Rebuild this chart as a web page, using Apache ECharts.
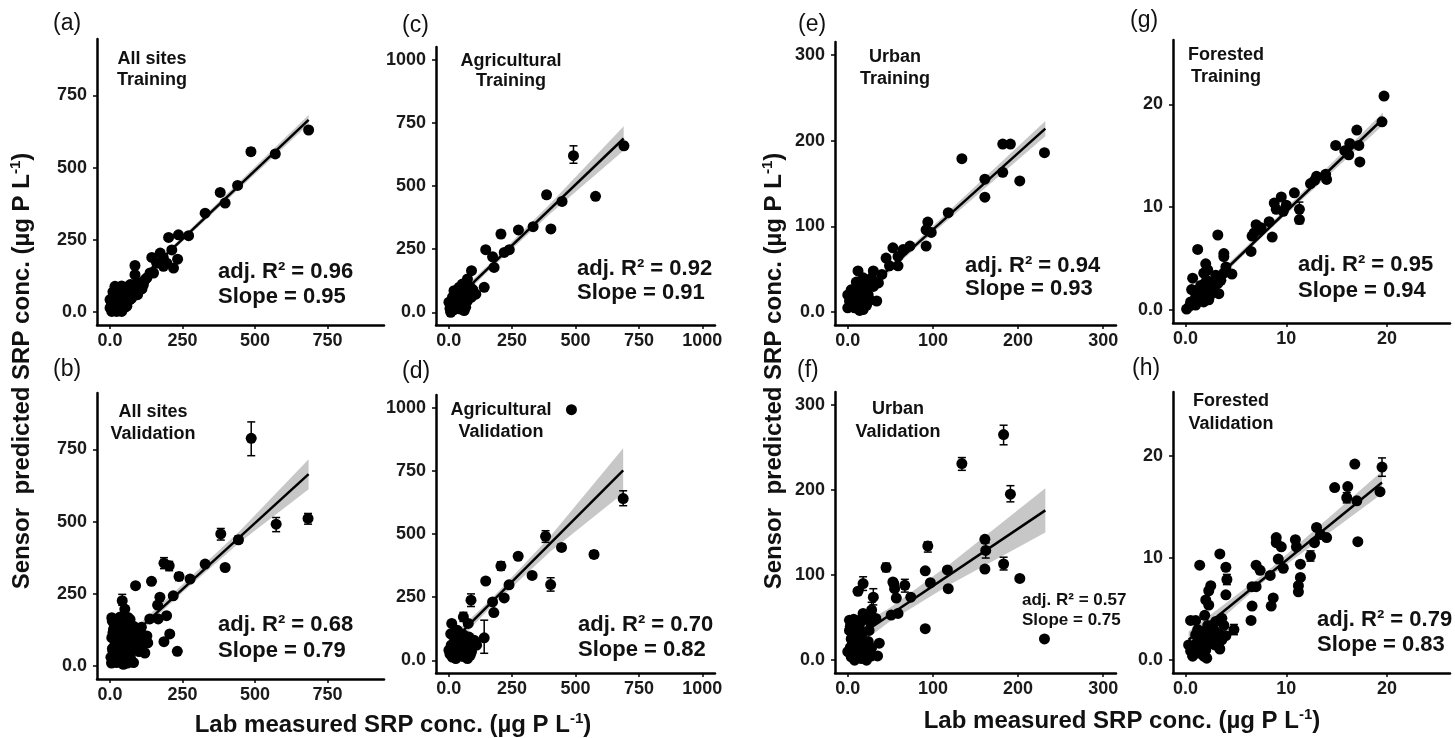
<!DOCTYPE html>
<html>
<head>
<meta charset="utf-8">
<script src="https://cdn.jsdelivr.net/npm/echarts@6/dist/echarts.min.js"></script>
<style>
  html, body { margin: 0; padding: 0; background: #fff; }
  #chart { width: 1455px; height: 738px; }
</style>
</head>
<body>
<div id="chart"></div>
<script>
// ---- data: [lab measured, sensor predicted] ----
var ptsA = [[685,630],[486,555],[570,547],[440,438],[380,414],[397,377],[328,342],[271,264],[236,267],[202,258],[233,183],[213,215],[173,204],[184,187],[161,169],[144,189],[138,135],[86,129],[121,112],[81,94],[86,161],[58,83],[35,60],[6,2],[17,20],[23,37],[35,43],[46,54],[12,54],[29,66],[52,77],[63,89],[75,71],[92,77],[104,89],[115,94],[17,89],[40,25],[58,20],[69,43],[81,66],[23,2],[40,2],[9,31],[0,43],[0,14],[46,31],[75,48],[127,118],[150,135],[184,158],[196,169],[219,152],[30,10],[50,15],[10,70],[25,80],[60,60],[100,100],[40,90],[5,25],[15,10],[20,50],[30,35],[45,70],[55,35],[65,75],[85,85],[95,60],[110,80],[70,95],[35,75],[12,40]]
var errA = [[486,543,567],[570,537,557]]
var fitA = [[0,15],[685,665]]
var bandA = [[0,3,27],[200,197,213],[685,650,682]]

var ptsB = [[487,788],[683,511],[573,491],[382,457],[443,437],[397,341],[328,353],[276,301],[238,310],[186,356],[204,347],[143,293],[88,278],[42,226],[51,197],[172,238],[218,243],[164,211],[195,174],[206,111],[186,84],[232,51],[166,163],[137,163],[108,134],[85,128],[62,168],[6,167],[12,127],[6,98],[17,75],[29,46],[12,29],[23,12],[40,23],[58,40],[75,58],[92,69],[104,86],[86,104],[63,121],[52,150],[69,161],[35,150],[81,138],[104,121],[127,104],[58,75],[40,63],[17,109],[29,138],[81,12],[46,6],[10,50],[20,90],[30,110],[5,10],[15,140],[45,95],[70,30],[100,50],[120,45],[60,10],[30,80],[8,155],[3,30],[8,60],[14,20],[20,45],[25,65],[33,30],[38,50],[45,40],[50,25],[55,90],[65,55],[72,80],[78,100],[88,85],[95,110],[110,70],[115,95],[130,80],[25,120],[10,115],[35,170],[48,130]]
var errB = [[487,728,845],[683,491,528],[573,465,514],[382,436,476],[443,425,450],[276,290,312],[238,296,323],[186,337,375],[204,330,362],[42,210,248],[397,332,350]]
var fitB = [[0,37],[685,664]]
var bandB = [[0,20,54],[250,255,282],[450,430,470],[685,612,716]]

var ptsC = [[691,659],[492,620],[579,459],[386,465],[447,439],[403,330],[333,339],[275,326],[239,248],[219,237],[206,310],[146,248],[173,220],[179,178],[90,165],[74,132],[140,99],[107,72],[54,112],[61,79],[34,79],[8,0],[14,26],[1,40],[28,53],[47,46],[28,20],[47,13],[67,20],[74,46],[47,66],[21,86],[61,7],[34,40],[80,79],[74,105],[41,99],[15,60],[55,30],[90,60],[20,10],[65,90],[5,15],[18,45],[30,30],[40,60],[55,50],[65,35],[70,70],[38,15],[50,85],[85,100],[95,90]]
var errC = [[691,646,672],[492,590,659],[386,452,478],[403,318,343],[206,296,324]]
var fitC = [[0,25],[690,688]]
var bandC = [[0,8,42],[170,177,200],[400,390,430],[690,640,736]]

var ptsD = [[484,992],[688,640],[382,491],[445,447],[573,419],[402,300],[329,336],[274,412],[206,373],[146,314],[238,299],[219,247],[173,231],[178,189],[88,238],[58,172],[77,146],[140,89],[104,70],[12,146],[8,105],[21,72],[1,40],[14,13],[34,46],[47,20],[61,66],[74,7],[41,79],[67,40],[28,7],[47,105],[80,92],[87,46],[61,99],[34,119],[20,30],[55,55],[10,60],[30,90],[70,25],[95,60],[5,25],[15,50],[25,35],[38,60],[50,40],[58,15],[65,80],[85,20],[90,35],[45,90],[25,110],[100,80],[110,60]]
var errD = [[688,612,671],[382,467,513],[445,435,460],[573,405,433],[402,274,327],[206,357,390],[88,213,263],[58,154,190],[140,28,159]]
var fitD = [[0,60],[688,752]]
var bandD = [[0,35,85],[170,215,245],[400,430,490],[688,661,839]]

var ptsE = [[231,186],[202,153],[182,196],[191,196],[182,163],[161,155],[161,134],[134,179],[118,116],[92,77],[94,105],[98,93],[92,96],[73,77],[65,73],[59,65],[53,75],[59,54],[45,63],[49,54],[30,48],[34,13],[36,34],[12,48],[26,34],[18,40],[0,20],[2,13],[6,22],[10,14],[16,24],[18,3],[8,5],[4,9],[14,30],[22,26],[12,9],[0,5],[20,16],[26,14],[16,13],[8,18],[4,26],[14,2],[22,8],[30,30],[10,35],[6,12],[10,24],[14,18],[20,30],[24,20],[28,40],[3,17],[40,44]]
var errE = []
var fitE = [[0,7],[232,214]]
var bandE = [[0,2,12],[80,75,82],[232,205,223]]

var ptsF = [[183,265],[134,231],[191,195],[161,142],[162,129],[161,107],[183,113],[202,96],[231,25],[117,106],[118,84],[94,134],[91,105],[97,91],[91,37],[74,74],[67,88],[54,90],[53,92],[55,84],[57,73],[51,53],[59,55],[45,109],[30,74],[28,59],[18,90],[12,81],[22,51],[33,49],[37,20],[35,5],[2,47],[14,47],[0,10],[4,4],[8,12],[12,16],[16,2],[6,20],[10,27],[18,33],[14,43],[18,20],[22,0],[8,0],[14,10],[4,25],[16,27],[2,35],[10,40],[20,8],[6,30],[24,22],[28,15],[3,15],[6,8],[9,22],[12,5],[15,35],[20,15],[25,35],[28,5],[3,40],[7,48],[11,30],[18,55],[26,45]]
var errF = [[183,253,276],[134,223,238],[191,186,205],[162,120,138],[183,106,121],[94,127,139],[67,80,95],[45,104,114],[30,65,84],[28,50,68],[18,82,98]]
var fitF = [[0,20],[232,176]]
var bandF = [[0,8,32],[50,46,62],[120,89,113],[232,150,202]]

var ptsG = [[19.7,20.8],[19.5,18.3],[17.0,17.5],[17.3,14.4],[17.2,16.0],[16.3,16.2],[16.2,15.1],[14.9,16.0],[13.9,13.2],[13.0,13.0],[12.4,12.3],[11.3,9.8],[11.3,8.8],[10.8,11.4],[9.5,11.0],[9.7,9.6],[8.8,10.4],[9.0,9.8],[8.6,7.1],[8.3,8.6],[7.0,8.3],[6.6,7.2],[6.5,5.7],[7.3,7.8],[3.8,5.2],[3.8,5.5],[3.2,7.3],[1.2,5.9],[4.6,3.5],[2.0,4.5],[0.7,3.1],[0.1,0.1],[0.5,0.8],[1.0,1.3],[1.3,2.0],[1.6,1.1],[2.0,1.6],[2.5,2.3],[2.8,2.8],[1.8,0.8],[2.3,1.0],[2.1,2.9],[3.0,3.4],[3.5,2.9],[2.6,2.0],[1.5,2.4],[0.6,2.0],[1.0,0.5],[1.8,3.6],[3.3,1.6],[2.2,3.9],[1.4,1.6],[3.8,3.6],[4.0,4.2],[12.8,12.6],[14.0,12.7],[10.0,10.2],[7.5,8.0],[6.8,7.5],[15.8,15.5],[0.4,0.4],[1.2,0.9],[1.7,1.8],[2.4,1.4],[2.9,2.4],[1.9,2.6],[1.1,1.9],[3.2,2.6]]
var errG = [[11.3,8.4,10.5]]
var fitG = [[0.3,0.5],[19.6,18.6]]
var bandG = [[0.3,0.1,0.9],[8,7.5,8.0],[19.6,18.0,19.2]]

var ptsH = [[19.5,18.9],[19.3,16.5],[16.8,19.2],[16.1,17.0],[16.0,15.9],[17.0,15.6],[17.1,11.6],[14.8,16.9],[14.0,12.0],[13.0,13.0],[12.8,11.5],[12.4,10.2],[13.4,12.3],[10.9,11.8],[11.0,11.1],[11.4,9.4],[11.4,8.1],[11.2,7.3],[11.2,6.7],[9.0,12.0],[9.0,11.5],[9.5,11.1],[9.2,9.9],[9.7,9.0],[8.4,8.3],[8.7,6.1],[8.5,5.3],[7.0,9.3],[7.4,8.8],[7.0,7.2],[6.6,7.2],[6.6,5.3],[6.5,3.9],[4.8,3.0],[4.0,9.1],[4.1,7.9],[4.0,6.4],[3.4,10.4],[2.5,7.3],[2.3,6.8],[2.0,5.9],[2.3,5.4],[1.4,9.3],[1.9,4.4],[0.5,3.9],[1.0,3.9],[3.6,4.1],[3.0,3.8],[0.3,1.5],[0.8,1.0],[1.3,0.7],[1.8,0.4],[2.1,0.2],[0.7,0.4],[1.5,2.2],[2.1,2.0],[2.6,2.3],[3.1,2.0],[3.6,2.0],[2.5,1.7],[1.8,2.8],[2.8,3.0],[1.1,1.7],[3.3,2.6],[1.0,2.5],[1.5,1.2],[2.0,1.0],[2.4,2.7],[2.9,1.5],[3.4,1.1],[0.5,0.9],[1.2,3.0],[2.2,3.4],[4.0,2.4],[3.8,3.4]]
var errH = [[19.5,18.0,19.8],[16.0,15.4,16.4],[12.4,9.7,10.7],[4.8,2.5,3.5],[4.1,7.4,8.4]]
var fitH = [[0.3,2.0],[19.5,17.4]]
var bandH = [[0.3,1.2,2.8],[8,7.9,8.6],[19.5,16.3,18.5]]

// tick values per axis family
var ticksAll = [0, 250, 500, 750]
var ticksAgr = [0, 250, 500, 750, 1000]
var ticksUrb = [0, 100, 200, 300]
var ticksFor = [0, 10, 20]

var statsA = ['0.96', '0.95']
var statsB = ['0.68', '0.79']
var statsC = ['0.92', '0.91']
var statsD = ['0.70', '0.82']
var statsE = ['0.94', '0.93']
var statsF = ['0.57', '0.75']
var statsG = ['0.95', '0.94']
var statsH = ['0.79', '0.83']

var FONT = '"Liberation Sans", Arial, Helvetica, sans-serif'

// panel layout: grid box, axis range, ticks, data
var panels = [
  { box: [97, 39, 287, 286], range: [-45, 945], ticks: ticksAll, pts: ptsA, err: errA, fit: fitA, band: bandA },
  { box: [97, 393, 287, 286], range: [-45, 945], ticks: ticksAll, pts: ptsB, err: errB, fit: fitB, band: bandB },
  { box: [436, 47, 279, 278], range: [-50, 1050], ticks: ticksAgr, pts: ptsC, err: errC, fit: fitC, band: bandC },
  { box: [436, 395, 279, 278], range: [-50, 1050], ticks: ticksAgr, pts: ptsD, err: errD, fit: fitD, band: bandD },
  { box: [835, 42, 281, 283], range: [-15, 315], ticks: ticksUrb, pts: ptsE, err: errE, fit: fitE, band: bandE },
  { box: [835, 392, 281, 281], range: [-15, 315], ticks: ticksUrb, pts: ptsF, err: errF, fit: fitF, band: bandF },
  { box: [1173, 40, 277, 283], range: [-1.25, 26.25], ticks: ticksFor, pts: ptsG, err: errG, fit: fitG, band: bandG },
  { box: [1173, 392, 277, 281], range: [-1.25, 26.25], ticks: ticksFor, pts: ptsH, err: errH, fit: fitH, band: bandH }
]

function fmtTick(v) {
  return v === 0 ? '0.0' : String(v)
}

function makeAxis(p, i, isX) {
  return {
    type: 'value',
    gridIndex: i,
    min: p.range[0],
    max: p.range[1],
    axisLine: { show: true, onZero: false, lineStyle: { color: '#000', width: 2.5 } },
    axisTick: { show: true, length: 4, customValues: p.ticks, lineStyle: { color: '#000', width: 1.5 } },
    axisLabel: {
      customValues: p.ticks,
      formatter: fmtTick,
      margin: isX ? 7 : 10,
      color: '#1a1a1a',
      fontSize: 18,
      fontWeight: 'bold',
      fontFamily: FONT
    },
    splitLine: { show: false }
  }
}

function bandRender(band) {
  return function (params, api) {
    if (params.dataIndex !== 0) return
    var upper = band.map(function (b) { return api.coord([b[0], b[2]]) })
    var lower = band.slice().reverse().map(function (b) { return api.coord([b[0], b[1]]) })
    return {
      type: 'polygon',
      shape: { points: upper.concat(lower) },
      style: { fill: '#bdbdbd', opacity: 0.85 }
    }
  }
}

function errRender(params, api) {
  var x = api.value(0)
  var top = api.coord([x, api.value(2)])
  var bot = api.coord([x, api.value(1)])
  var w = 4
  var st = { stroke: '#000', lineWidth: 1.5 }
  return {
    type: 'group',
    children: [
      { type: 'line', shape: { x1: top[0], y1: top[1], x2: bot[0], y2: bot[1] }, style: st },
      { type: 'line', shape: { x1: top[0] - w, y1: top[1], x2: top[0] + w, y2: top[1] }, style: st },
      { type: 'line', shape: { x1: bot[0] - w, y1: bot[1], x2: bot[0] + w, y2: bot[1] }, style: st }
    ]
  }
}

var grids = [], xAxes = [], yAxes = [], series = []
panels.forEach(function (p, i) {
  grids.push({ left: p.box[0], top: p.box[1], width: p.box[2], height: p.box[3], outerBoundsMode: 'none', containLabel: false })
  xAxes.push(makeAxis(p, i, true))
  yAxes.push(makeAxis(p, i, false))
  series.push({
    type: 'custom', xAxisIndex: i, yAxisIndex: i, silent: true, z: 1,
    renderItem: bandRender(p.band), data: p.band.map(function (b) { return [b[0], b[1]] })
  })
  series.push({
    type: 'scatter', xAxisIndex: i, yAxisIndex: i, z: 2,
    symbolSize: 11, itemStyle: { color: '#000', opacity: 1 }, data: p.pts
  })
  if (p.err.length) {
    series.push({
      type: 'custom', xAxisIndex: i, yAxisIndex: i, z: 3,
      renderItem: errRender, data: p.err
    })
  }
  series.push({
    type: 'line', xAxisIndex: i, yAxisIndex: i, z: 4,
    symbol: 'none', lineStyle: { color: '#000', width: 2.5 }, data: p.fit
  })
})

// ---- text ----
function txt(x, y, text, size, bold, align, lineHeight) {
  return {
    type: 'text', x: x, y: y, z: 10,
    style: {
      text: text, fill: '#111', fontSize: size, fontWeight: bold ? 'bold' : 'normal',
      fontFamily: FONT, align: align || 'left', textAlign: align || 'left',
      verticalAlign: 'middle', textVerticalAlign: 'middle', lineHeight: lineHeight || size
    }
  }
}

function axisTitle(x, y, rot) {
  return {
    type: 'text', x: x, y: y, rotation: rot, z: 10,
    style: {
      text: '{m|Lab measured SRP conc. (µg P L}{s|-1}{m|)}',
      align: 'center', verticalAlign: 'middle', textAlign: 'center', textVerticalAlign: 'middle',
      rich: {
        m: { fontSize: 24, fontWeight: 'bold', fontFamily: FONT, fill: '#111', color: '#111', lineHeight: 28 },
        s: { fontSize: 15, fontWeight: 'bold', fontFamily: FONT, fill: '#111', color: '#111', lineHeight: 14, verticalAlign: 'top' }
      }
    }
  }
}

function yTitle(x, y) {
  var t = axisTitle(x, y, Math.PI / 2)
  t.style.text = '{m|Sensor  predicted SRP conc. (µg P L}{s|-1}{m|)}'
  return t
}

function stats(x, y, s, size, gap) {
  return txt(x, y, 'adj. R² = ' + s[0] + '\nSlope = ' + s[1], size, true, 'left', gap)
}

var graphics = [
  txt(53, 24, '(a)', 23, false), txt(53, 370, '(b)', 23, false),
  txt(402, 26, '(c)', 23, false), txt(402, 372, '(d)', 23, false),
  txt(798, 25, '(e)', 23, false), txt(797, 371, '(f)', 23, false),
  txt(1130, 21, '(g)', 23, false), txt(1132, 369, '(h)', 23, false),

  txt(152, 70, 'All sites\nTraining', 18, true, 'center', 21),
  txt(153, 423, 'All sites\nValidation', 18, true, 'center', 22),
  txt(511, 71, 'Agricultural\nTraining', 18, true, 'center', 20),
  txt(501, 421, 'Agricultural\nValidation', 18, true, 'center', 22),
  txt(895, 68, 'Urban\nTraining', 18, true, 'center', 22),
  txt(898, 421, 'Urban\nValidation', 18, true, 'center', 23),
  txt(1226, 66, 'Forested\nTraining', 18, true, 'center', 22),
  txt(1231, 413, 'Forested\nValidation', 18, true, 'center', 23),

  stats(218, 284, statsA, 22, 25),
  stats(218, 638, statsB, 22, 26),
  stats(577, 281, statsC, 22, 24),
  stats(578, 637, statsD, 22, 25),
  stats(965, 277, statsE, 22, 23),
  stats(1022, 610, statsF, 17, 20),
  stats(1298, 278, statsG, 22, 26),
  stats(1317, 632, statsH, 22, 25),

  yTitle(22, 371), yTitle(774, 371),
  axisTitle(393, 725, 0), axisTitle(1122, 721, 0)
]

var chart = echarts.init(document.getElementById('chart'))
chart.setOption({
  animation: false,
  backgroundColor: '#fff',
  grid: grids,
  xAxis: xAxes,
  yAxis: yAxes,
  series: series,
  graphic: { elements: graphics }
})
</script>
</body>
</html>
